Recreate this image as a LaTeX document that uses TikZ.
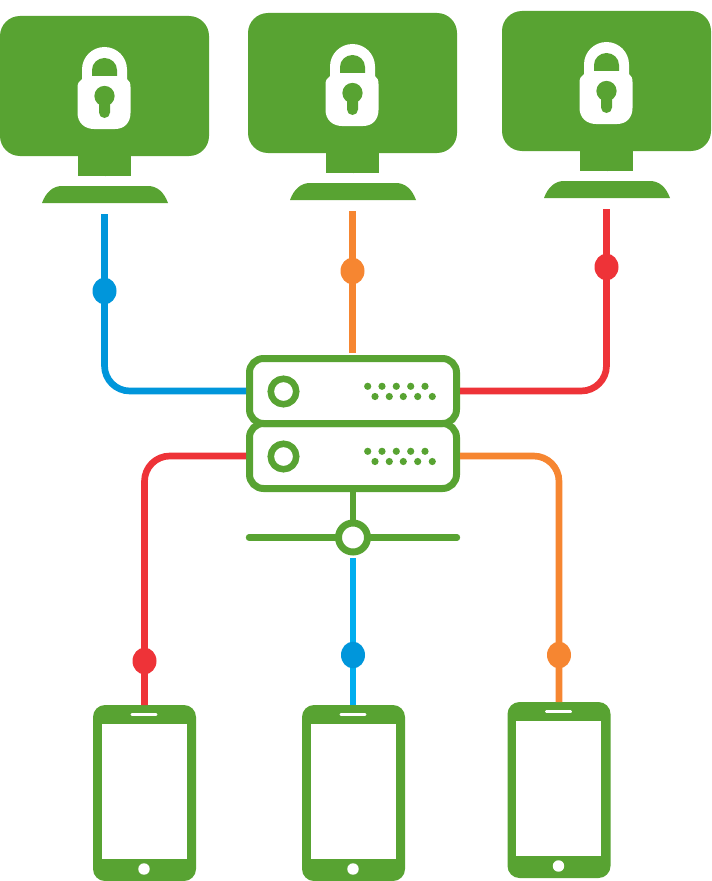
\documentclass[tikz,border=0pt]{standalone}
\usetikzlibrary{shapes.geometric}
\definecolor{grn}{RGB}{88,163,50}
\definecolor{bluea}{RGB}{0,150,219}
\definecolor{cyana}{RGB}{0,174,239}
\definecolor{orng}{RGB}{246,134,49}
\definecolor{redd}{RGB}{238,51,56}
\tikzset{
  px/.style={x=0.75pt,y=-0.75pt},
  screenbox/.style={fill=grn,rounded corners=15pt,minimum width=156.75pt,minimum height=105pt,inner sep=0pt,outer sep=0pt},
  srv/.style={draw=grn,line width=5.25pt,fill=white,fill opacity=0,rounded corners=10.5pt,minimum width=155.25pt,minimum height=48.75pt,inner sep=0pt},
  ringa/.style={circle,draw=grn,line width=4.9pt,minimum size=19.1pt,inner sep=0pt},
  dotg/.style={circle,fill=grn,minimum size=5.4pt,inner sep=0pt},
  wire/.style={line width=5pt},
  bead/.style={ellipse,minimum width=18pt,minimum height=20pt,inner sep=0pt},
  phonebody/.style={fill=grn,rounded corners=9pt,minimum width=77.25pt,minimum height=132pt,inner sep=0pt,outer sep=0pt},
  phonescreen/.style={fill=white,minimum width=64.1pt,minimum height=101.5pt,inner sep=0pt},
  homebtn/.style={circle,fill=white,minimum size=8.6pt,inner sep=0pt},
  speaker/.style={fill=white,rounded corners=.8pt,minimum width=20pt,minimum height=2.2pt,inner sep=0pt}
}
\newcommand{\monitorat}[3]{%
  \begin{scope}[shift={(#2,#3)}]
    \node[screenbox] (#1) at (104.5,86) {};
    \fill[grn] (78,150) rectangle (131,176);
    \node[fill=grn,minimum width=0pt,inner sep=0pt] (#1neck) at (104.5,176) {};
    \fill[grn] (42,203) .. controls (46,192) and (53,186) .. (62,186) -- (148,186) .. controls (157,186) and (164,192) .. (168,203) -- cycle;
    \coordinate (#1foot) at (104.5,214);
    \fill[white] (82,79) -- (82,69.5) arc[start angle=180,end angle=0,x radius=22.5,y radius=-22.5] -- (127,79)
       .. controls (129.5,81) and (130.5,83) .. (130.5,87) -- (130.5,113)
       .. controls (130.5,123) and (124,129) .. (115,129) -- (94,129)
       .. controls (85,129) and (77.5,123) .. (77.5,113) -- (77.5,87)
       .. controls (77.5,83) and (79.5,81) .. (82,79) -- cycle;
    \fill[grn] (92,76) -- (92,70) arc[start angle=180,end angle=0,x radius=12.5,y radius=-12] -- (117,76) -- cycle;
    \fill[grn] (104.5,96) circle[radius=7.6pt];
    \fill[grn] (99,100) -- (99,112.5) arc[start angle=180,end angle=360,x radius=5.5,y radius=-5.5] -- (110,100) -- cycle;
  \end{scope}}
\newcommand{\phoneat}[3]{%
  \begin{scope}[shift={(#2,#3)}]
    \node[phonebody] (#1) at (144.5,793) {};
    \node[phonescreen] (#1screen) at (144.25,791.5) {};
    \node[speaker] (#1speaker) at (144,714.5) {};
    \node[homebtn] (#1home) at (144,869) {};
  \end{scope}}
\newcommand{\serverat}[2]{%
  \node[srv] (#1) at (353,#2) {};
  \node[ringa] (#1ring) at (283.5,#2+.5) {};
  \foreach \i/\xx in {a/367.7,b/382,c/396.3,d/410.7,e/425}{\node[dotg] (#1top\i) at (\xx,#2-4.7) {};}
  \foreach \i/\xx in {a/375,b/389.3,c/403.3,d/417.7,e/432.3}{\node[dotg] (#1low\i) at (\xx,#2+5.5) {};}}
\begin{document}
\begin{tikzpicture}[px]
\useasboundingbox (0,0) rectangle (711,881);
\monitorat{mona}{0}{0}
\monitorat{monb}{248}{-3}
\monitorat{monc}{502}{-5}
\serverat{srvb}{456}
\serverat{srva}{391}
\phoneat{pha}{0}{0}
\phoneat{phb}{209}{0}
\phoneat{phc}{414.5}{-3}
% bus
\node[ringa,line width=5.25pt,minimum size=21.75pt] (hub) at (353,537.5) {};
\coordinate (busl) at (249,537.5);
\coordinate (busr) at (457,537.5);
\draw[grn,line width=4.8pt,line cap=round] (busl) -- (hub.west);
\draw[grn,line width=4.8pt,line cap=round] (hub.east) -- (busr);
\draw[grn,line width=5pt] (srvb.south) -- (hub.north);
% wires
\draw[wire,bluea,rounded corners=19pt] (monafoot) |- (srva.west);
\node[bead,fill=bluea] (beada) at (104.5,291) {};
\coordinate (srvtop) at (352.5,353);
\draw[wire,orng] (monbfoot) -- (srvtop);
\node[bead,fill=orng] (beadb) at (352.5,271) {};
\draw[wire,redd,rounded corners=19pt] (moncfoot) |- (srva.east);
\node[bead,fill=redd] (beadc) at (606.5,267) {};
\draw[wire,redd,rounded corners=19pt] (srvb.west) -| (pha.north);
\node[bead,fill=redd] (beadd) at (144.5,661) {};
\coordinate (hubfoot) at (353,558);
\draw[wire,cyana] (hubfoot) -- (phb.north -| hubfoot);
\node[bead,fill=bluea] (beade) at (353,655) {};
\draw[wire,orng,rounded corners=19pt] (srvb.east) -| (phc.north);
\node[bead,fill=orng] (beadf) at (559,655) {};
\end{tikzpicture}
\end{document}
